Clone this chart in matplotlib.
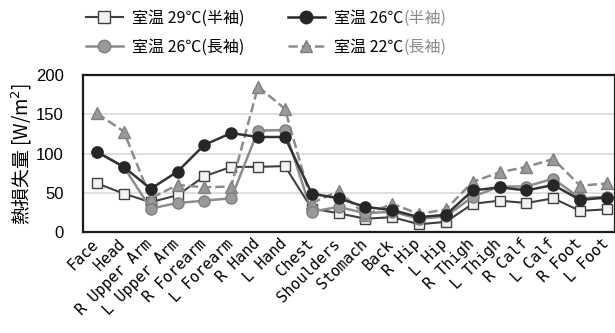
import numpy as np
import matplotlib
matplotlib.use("Agg")
import matplotlib.pyplot as plt
import matplotlib.transforms as mtrans
from matplotlib.lines import Line2D

plt.rcParams['font.family'] = ['Noto Sans CJK JP', 'DejaVu Sans']

parts = ["Face", "Head", "R Upper Arm", "L Upper Arm", "R Forearm", "L Forearm",
         "R Hand", "L Hand", "Chest", "Shoulders", "Stomach", "Back",
         "R Hip", "L Hip", "R Thigh", "L Thigh", "R Calf", "L Calf",
         "R Foot", "L Foot"]

t29_short = [62, 49, 38, 47, 71, 83, 83, 84, 30, 24, 17, 19, 10, 13, 36, 40, 37, 43, 27, 29]
t26_short = [102, 83, 55, 77, 111, 126, 121, 121, 49, 43, 32, 28, 19, 22, 53, 57, 53, 60, 41, 44]
t26_long = [102, 83, 30, 37, 40, 43, 129, 130, 26, 32, 24, 26, 17, 20, 45, 58, 58, 68, 43, 45]
t22_long = [151, 128, 43, 60, 57, 58, 185, 157, 37, 52, 22, 36, 23, 29, 64, 76, 83, 93, 59, 62]

x = np.arange(len(parts))

fig = plt.figure(figsize=(6.15, 3.33), dpi=100)
ax = fig.add_axes([0.135, 0.303, 0.865, 0.472])

ax.plot(x, t22_long, '--', color='#8c8c8c', lw=1.8, marker='^', ms=8,
        mfc='#999999', mec='#7f7f7f', zorder=3)
ax.plot(x, t26_long, '-', color='#8c8c8c', lw=1.8, marker='o', ms=8,
        mfc='#999999', mec='#7f7f7f', zorder=4)
ax.plot(x, t26_short, '-', color='#333333', lw=1.8, marker='o', ms=8,
        mfc='#262626', mec='#262626', zorder=5)
ax.plot(x, t29_short, '-', color='#404040', lw=1.5, marker='s', ms=7.5,
        mfc='#f2f2f2', mec='#404040', zorder=2)

ax.set_xlim(-0.52, 19.3)
ax.set_ylim(0, 200)
ax.set_yticks([0, 50, 100, 150, 200])
ax.yaxis.grid(True, color='#d9d9d9', lw=1.2)
ax.set_axisbelow(True)
for s in ax.spines.values():
    s.set_linewidth(1.6)
    s.set_color('#1a1a1a')
ax.tick_params(axis='both', length=0)
ax.tick_params(axis='y', pad=14)
for lab in ax.get_yticklabels():
    lab.set_fontfamily('Liberation Sans')
    lab.set_fontsize(12)
ax.set_xticks(x)
ax.set_xticklabels(parts, rotation=45, ha='right', rotation_mode='anchor',
                   fontsize=11, family='DejaVu Sans Mono')
ax.tick_params(axis='x', pad=3)
# nudge the rotated labels a little to the left
shift = mtrans.ScaledTranslation(-6 / 100, 0, fig.dpi_scale_trans)
for lab in ax.get_xticklabels():
    lab.set_transform(lab.get_transform() + shift)
ax.set_ylabel("熱損失量 [W/m$^2$]", fontsize=13.5, labelpad=1)

handles = [
    Line2D([], [], color='#404040', lw=1.5, marker='s', ms=9, mfc='#f2f2f2', mec='#404040'),
    Line2D([], [], color='#8c8c8c', lw=1.8, marker='o', ms=9, mfc='#999999', mec='#7f7f7f'),
    Line2D([], [], color='#262626', lw=1.8, marker='o', ms=9, mfc='#262626', mec='#262626'),
    Line2D([], [], color='#8c8c8c', lw=1.8, ls='--', marker='^', ms=9, mfc='#999999', mec='#7f7f7f'),
]
labels = ["室温 29℃(半袖)", "室温 26℃(長袖)", "室温 26℃", "室温 22℃"]
leg = fig.legend(handles, labels, ncol=2, loc='upper left', bbox_to_anchor=(0.124, 1.0),
                 frameon=False, fontsize=11.5, handlelength=2.3, columnspacing=2.7,
                 labelspacing=0.75, handletextpad=0.6, borderpad=0.1)

# gray parentheticals after the second column labels
fig.canvas.draw()
r = fig.canvas.get_renderer()
for txt, extra in zip(leg.get_texts()[2:], ["(半袖)", "(長袖)"]):
    bb = txt.get_window_extent(r)
    fig.text(bb.x1 / fig.bbox.width, (bb.y0 + bb.y1) / 2 / fig.bbox.height, extra,
             fontsize=11.5, color='#8c8c8c', va='center', ha='left')

fig.savefig("out.png", dpi=100)
